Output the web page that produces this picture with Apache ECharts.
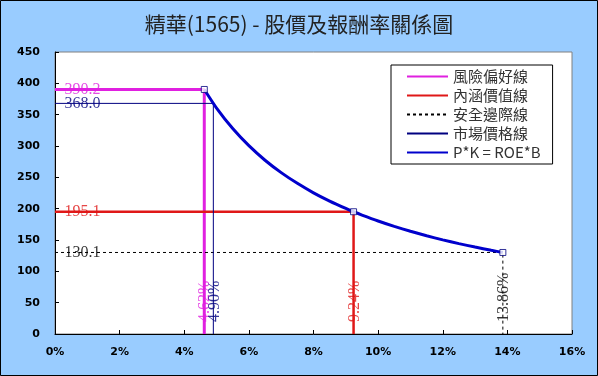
<!DOCTYPE html>
<html>
<head>
<meta charset="utf-8">
<script src="https://cdn.jsdelivr.net/npm/echarts@6/dist/echarts.min.js"></script>
<style>
    html, body { margin: 0; padding: 0; background: #99CCFF; }
    #chart-main { width: 598px; height: 376px; }
</style>
</head>
<body>
<div id="chart-main"></div>
<script>
// 參考線: 名稱, 報酬率(%), 股價
var refNames = ['風險偏好線', '內涵價值線', '安全邊際線', '市場價格線'];
var refRates = [4.62, 9.24, 13.86, 4.90];
var refPrices = [390.2, 195.1, 130.1, 368.0];
var refColors = ['#E020E0', '#E01818', '#000000', '#000080'];

// P*K = ROE*B 曲線
var curveName = 'P*K = ROE*B';
var curveRates = [4.62, 5.0, 5.5, 6.0, 6.5, 7.0, 7.5, 8.0, 8.5, 9.0, 9.24, 9.5, 10.0, 10.5, 11.0, 11.5, 12.0, 12.5, 13.0, 13.5, 13.86];
var curvePrices = [390.2, 360.5, 327.8, 300.5, 277.3, 257.5, 240.4, 225.3, 212.1, 200.3, 195.1, 189.8, 180.3, 171.7, 163.9, 156.8, 150.2, 144.2, 138.7, 133.5, 130.1];

// 曲線上的標記點
var markRates = [4.62, 9.24, 13.86];
var markPrices = [390.2, 195.1, 130.1];

var chartMain = echarts.init(document.getElementById('chart-main'));

var lineStyles = [
    {width: 3, type: 'solid'},
    {width: 2.5, type: 'solid'},
    {width: 1, type: [3, 3]},
    {width: 1, type: 'solid'}
];

var series = [];
var labelData = [];
for (var i = 0; i < refNames.length; i++) {
    var r = refRates[i], p = refPrices[i];
    series.push({
        name: refNames[i],
        type: 'line',
        symbol: 'none',
        color: refColors[i],
        lineStyle: {color: refColors[i], width: lineStyles[i].width, type: lineStyles[i].type},
        data: [[0, p], [r, p], [r, 0]],
        z: 2
    });
    // 左側股價標籤
    labelData.push({
        value: [0, p],
        label: {
            show: true, position: 'right', distance: 9,
            formatter: p.toFixed(1), color: refColors[i]
        }
    });
    // 底部報酬率標籤 (直排), offset 以旋轉後座標計
    labelData.push({
        value: [r, 0],
        label: {
            show: true, position: 'inside', rotate: 90,
            align: 'left', verticalAlign: 'middle', offset: [12, 1],
            formatter: r.toFixed(2) + '%', color: refColors[i]
        }
    });
}

series.push({
    name: curveName,
    type: 'line',
    symbol: 'none',
    smooth: 0.2,
    color: '#0000CC',
    lineStyle: {color: '#0000CC', width: 3},
    data: curveRates.map(function (r, k) { return [r, curvePrices[k]]; }),
    z: 3
});

series.push({
    name: 'marks',
    type: 'scatter',
    symbol: 'rect',
    symbolSize: 6,
    itemStyle: {color: '#fff', borderColor: '#000080', borderWidth: 1},
    data: markRates.map(function (r, k) { return [r, markPrices[k]]; }),
    z: 5
});

series.push({
    name: 'labels',
    type: 'scatter',
    symbolSize: 1,
    itemStyle: {color: 'rgba(0,0,0,0)'},
    label: {fontFamily: 'Liberation Serif', fontSize: 16},
    data: labelData,
    z: 4
});

var option = {
    backgroundColor: '#99CCFF',
    animation: false,
    title: {
        text: '精華(1565) - 股價及報酬率關係圖',
        left: 'center',
        top: 9,
        textStyle: {
            fontFamily: 'Noto Sans CJK TC',
            fontSize: 21,
            fontWeight: 'normal',
            color: '#222'
        }
    },
    graphic: [{
        type: 'rect',
        shape: {x: 0.5, y: 0.5, width: 597, height: 375},
        style: {fill: 'none', stroke: '#000', lineWidth: 1},
        silent: true
    }],
    grid: {
        left: 55,
        top: 52,
        right: 26,
        bottom: 42,
        show: true,
        backgroundColor: '#fff',
        borderColor: '#808080',
        borderWidth: 1
    },
    legend: {
        data: refNames.concat([curveName]),
        orient: 'vertical',
        left: 391,
        top: 65,
        padding: [3, 12, 3, 15],
        itemGap: 2,
        itemWidth: 41,
        itemHeight: 14,
        itemStyle: {opacity: 0},
        backgroundColor: '#fff',
        borderColor: '#000',
        borderWidth: 1,
        borderRadius: 0,
        textStyle: {fontFamily: 'Noto Sans CJK TC', fontSize: 15, lineHeight: 17, color: '#333'}
    },
    xAxis: {
        type: 'value',
        min: 0,
        max: 16,
        interval: 2,
        axisLine: {lineStyle: {color: '#000'}},
        axisTick: {inside: true, length: 4, lineStyle: {color: '#000'}},
        splitLine: {show: false},
        axisLabel: {
            formatter: '{value}%',
            margin: 13,
            fontFamily: 'DejaVu Sans',
            fontWeight: 'bold',
            fontSize: 11,
            color: '#000'
        }
    },
    yAxis: {
        type: 'value',
        min: 0,
        max: 450,
        interval: 50,
        axisLine: {show: true, lineStyle: {color: '#000'}},
        axisTick: {show: true, inside: true, length: 4, lineStyle: {color: '#000'}},
        splitLine: {show: false},
        axisLabel: {
            margin: 15,
            fontFamily: 'DejaVu Sans',
            fontWeight: 'bold',
            fontSize: 11,
            color: '#000'
        }
    },
    series: series
};
chartMain.setOption(option);
</script>
</body>
</html>
